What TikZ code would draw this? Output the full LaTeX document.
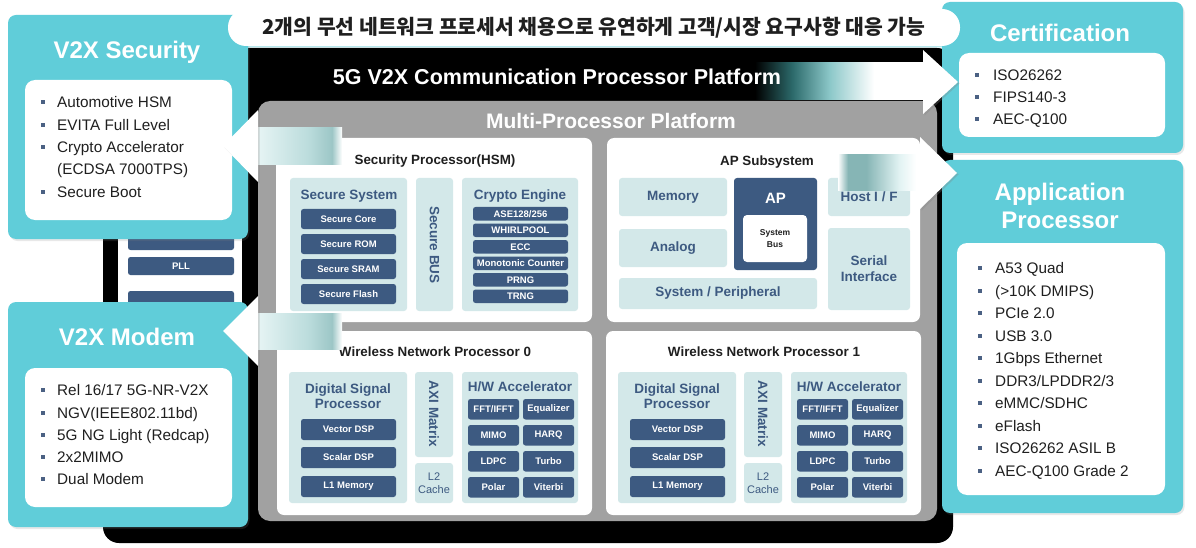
\documentclass[tikz,border=0pt]{standalone}
\usepackage{fontspec}
\setmainfont{Liberation Sans}
\newfontfamily\krfont{Noto Sans CJK KR}
\usetikzlibrary{shadows}
\definecolor{tealbox}{HTML}{60CDD9}
\definecolor{navy}{HTML}{3D5A81}
\definecolor{pale}{HTML}{D3E8E9}
\definecolor{gplat}{HTML}{A1A1A1}
\definecolor{ink}{HTML}{1F1F1F}
\definecolor{bulc}{HTML}{4B6183}
\definecolor{sha}{HTML}{E6F4F4}
\definecolor{shb}{HTML}{BBDCDC}
\definecolor{shc}{HTML}{9CC6C6}
\definecolor{sra}{HTML}{2C6A6B}
\definecolor{srb}{HTML}{8CC8C9}
\definecolor{src}{HTML}{86B5B5}
\definecolor{srd}{HTML}{E2F3F3}
\newcommand\fs[2]{\fontsize{#1}{#2}\selectfont}
\pgfdeclarehorizontalshading{lshaft}{100bp}{color(0bp)=(sha); color(25bp)=(sha); color(55bp)=(shb); color(69bp)=(shc); color(75bp)=(white); color(100bp)=(white)}
\pgfdeclarehorizontalshading{rshaftA}{100bp}{color(0bp)=(black); color(25bp)=(black); color(36bp)=(sra); color(47bp)=(srb); color(60bp)=(white); color(100bp)=(white)}
\pgfdeclarehorizontalshading{rshaftB}{100bp}{color(0bp)=(white); color(25bp)=(white); color(31bp)=(src); color(42bp)=(src); color(62bp)=(srd); color(72bp)=(white); color(100bp)=(white)}
\newcommand\bitem[5]{\fill[bulc] (#2-2,#4-2) rectangle (#2+2,#4+2); \node[item] (#1) at (#3,#4+5.5) {#5};}
\newcommand\wnp[3]{%
\begin{scope}[xshift=#2pt,name prefix=#1-]
 \node[panel,minimum width=315pt,minimum height=184pt] (p) at (277,331) {};
 \node[ttl] (t) at (435,356.8) {Wireless Network Processor #3};
 \node[pbox,minimum width=118pt,minimum height=131pt] (dsp) at (289,372) {};
 \node[ptitle] (dspt) at (348,396.5) {Digital Signal\\Processor};
 \node[blk,minimum width=95pt,minimum height=21pt] (vdsp) at (301,419) {Vector DSP};
 \node[blk,minimum width=95pt,minimum height=21pt] (sdsp) at (301,447) {Scalar DSP};
 \node[blk,minimum width=95pt,minimum height=21pt] (l1) at (301,476) {L1 Memory};
 \node[pbox,minimum width=38pt,minimum height=85pt] (axi) at (415,372) {};
 \node[ptitle,rotate=-90] (axit) at (434,414) {AXI Matrix};
 \node[pbox,minimum width=38pt,minimum height=40pt,text=navy,font=\fs{11}{12.5},align=center] (l2) at (415,463) {L2\\Cache};
 \node[pbox,minimum width=116pt,minimum height=131pt] (hw) at (462,372) {};
 \node[ptitle,anchor=base] (hwt) at (520,391.8) {H/W Accelerator};
 \node[blk,minimum width=51pt,minimum height=20.5pt] (fft) at (468,399) {FFT/IFFT};
 \node[blk,minimum width=51pt,minimum height=20.5pt] (eq) at (523,399) {Equalizer};
 \node[blk,minimum width=51pt,minimum height=20.5pt] (mimo) at (468,425) {MIMO};
 \node[blk,minimum width=51pt,minimum height=20.5pt] (harq) at (523,425) {HARQ};
 \node[blk,minimum width=51pt,minimum height=20.5pt] (ldpc) at (468,451) {LDPC};
 \node[blk,minimum width=51pt,minimum height=20.5pt] (turbo) at (523,451) {Turbo};
 \node[blk,minimum width=51pt,minimum height=20.5pt] (polar) at (468,477) {Polar};
 \node[blk,minimum width=51pt,minimum height=20.5pt] (vit) at (523,477) {Viterbi};
\end{scope}}
\begin{document}
\begin{tikzpicture}[x=1pt,y=-1pt,
  box/.style={anchor=north west,inner sep=0pt,outer sep=0pt},
  blk/.style={box,fill=navy,rounded corners=2.5pt,text=white,font=\bfseries\fs{9.5}{10}},
  pbox/.style={box,fill=pale,rounded corners=3pt},
  pboxt/.style={pbox,text=navy,font=\bfseries\fs{13.5}{16},align=center},
  ptitle/.style={inner sep=0pt,text=navy,font=\bfseries\fs{13.5}{15},align=center},
  panel/.style={box,fill=white,rounded corners=7pt},
  ttl/.style={inner sep=0pt,anchor=base,text=ink,font=\bfseries\fs{13.4}{15}},
  card/.style={box,fill=tealbox,rounded corners=8pt,drop shadow={opacity=0.18,shadow xshift=1.5pt,shadow yshift=-2pt}},
  cardin/.style={box,fill=white,rounded corners=10pt},
  cardtitle/.style={inner sep=0pt,text=white,font=\bfseries\fs{24}{28},align=center},
  item/.style={anchor=base west,inner sep=0pt,text=ink,font=\fs{15.3}{17}},
  head/.style={fill=white,drop shadow={opacity=0.3,shadow xshift=1.5pt,shadow yshift=-1.5pt}},
]
\useasboundingbox (0,0) rectangle (1196,548);
\fill[white] (0,0) rectangle (1196,548);

% black communication platform
\node[box,fill=black,rounded corners=16pt,minimum width=850pt,minimum height=495pt] (comm) at (103,48) {};
\node[box,fill=white,minimum width=124pt,minimum height=200pt] (rf) at (118,150) {};
\node[blk,minimum width=106pt,minimum height=18pt] (mixer) at (128,232) {};
\node[blk,minimum width=106pt,minimum height=18pt] (pll) at (128,257) {PLL};
\node[blk,minimum width=106pt,minimum height=18pt] (lna) at (128,291) {};

% gray multi-processor platform
\node[box,fill=gplat,rounded corners=12pt,minimum width=679pt,minimum height=420pt] (mpp) at (258,101) {};
\node[inner sep=0pt,anchor=base,text=white,font=\bfseries\fs{21}{24}] (mppt) at (611,128.5) {Multi-Processor Platform};

% security processor
\node[panel,minimum width=316pt,minimum height=184pt] (hsm) at (276,138) {};
\node[ttl] (hsmt) at (435,164.8) {Security Processor(HSM)};
\node[pbox,minimum width=117pt,minimum height=133pt] (ss) at (290,178) {};
\node[ptitle,anchor=base] (sst) at (349,199.8) {Secure System};
\node[blk,minimum width=95pt,minimum height=20pt] (score) at (301,209) {Secure Core};
\node[blk,minimum width=95pt,minimum height=20pt] (srom) at (301,234) {Secure ROM};
\node[blk,minimum width=95pt,minimum height=20pt] (ssram) at (301,259) {Secure SRAM};
\node[blk,minimum width=95pt,minimum height=20pt] (sflash) at (301,284) {Secure Flash};
\node[pbox,minimum width=37pt,minimum height=133pt] (sbus) at (416,178) {};
\node[ptitle,rotate=-90] (sbust) at (434.5,245) {Secure BUS};
\node[pbox,minimum width=116pt,minimum height=133pt] (ce) at (462,178) {};
\node[ptitle,anchor=base] (cet) at (520,199.8) {Crypto Engine};
\node[blk,minimum width=95pt,minimum height=13.5pt] (aes) at (473,207) {ASE128/256};
\node[blk,minimum width=95pt,minimum height=13.5pt] (whirl) at (473,223.5) {WHIRLPOOL};
\node[blk,minimum width=95pt,minimum height=13.5pt] (ecc) at (473,240) {ECC};
\node[blk,minimum width=95pt,minimum height=13.5pt] (mono) at (473,256.5) {Monotonic Counter};
\node[blk,minimum width=95pt,minimum height=13.5pt] (prng) at (473,273) {PRNG};
\node[blk,minimum width=95pt,minimum height=13.5pt] (trng) at (473,289.5) {TRNG};

% AP subsystem
\node[panel,minimum width=313pt,minimum height=184pt] (aps) at (607,138) {};
\node[ttl] (apst) at (767,165.8) {AP Subsystem};
\node[pboxt,minimum width=108pt,minimum height=38pt] (mem) at (619,178) {Memory};
\node[pboxt,minimum width=108pt,minimum height=38pt] (analog) at (619,229) {Analog};
\node[pboxt,minimum width=198pt,minimum height=31pt] (sysper) at (619,278) {System / Peripheral};
\node[pboxt,minimum width=82pt,minimum height=38pt] (host) at (828,178) {Host I / F};
\node[pboxt,minimum width=82pt,minimum height=82pt] (serial) at (828,228) {Serial\\Interface};
\node[box,fill=navy,rounded corners=3pt,minimum width=83pt,minimum height=92pt] (ap) at (734,178) {};
\node[inner sep=0pt,anchor=base,text=white,font=\bfseries\fs{15}{16}] (apt) at (775.5,203.4) {AP};
\node[box,fill=white,rounded corners=4pt,minimum width=64pt,minimum height=47pt,text=ink,font=\bfseries\fs{8.5}{11.5},align=center] (sysbus) at (743,215) {System\\Bus};

% wireless network processors
\wnp{w0}{0}{0}
\wnp{w1}{329}{1}

% arrow shafts
\path[shading=lshaft] (258,128) rectangle (342,165);
\path[shading=lshaft] (258,313) rectangle (342,349);
\path[shading=rshaftA] (755,63) rectangle (925,100);
\path[shading=rshaftB] (838,155) rectangle (921,191);
\node[inner sep=0pt,anchor=base,text=white,font=\bfseries\fs{21.5}{24}] (commt) at (557,84.7) {5G V2X Communication Processor Platform};

% left cards
\node[card,minimum width=240pt,minimum height=224pt] (sec) at (8,15) {};
\node[cardtitle,anchor=base] (sect) at (127,58.6) {V2X Security};
\node[cardin,minimum width=207pt,minimum height=140pt] (secin) at (25,80) {};
\bitem{s1}{43}{57}{102}{Automotive HSM}
\bitem{s2}{43}{57}{125}{EVITA Full Level}
\bitem{s3}{43}{57}{147}{Crypto Accelerator}
\node[item] (s4) at (57,174.5) {(ECDSA 7000TPS)};
\bitem{s5}{43}{57}{192}{Secure Boot}

\node[card,minimum width=240pt,minimum height=225pt] (mod) at (8,302) {};
\node[cardtitle,anchor=base] (modt) at (127,345.6) {V2X Modem};
\node[cardin,minimum width=207pt,minimum height=139pt] (modin) at (25,368) {};
\bitem{m1}{43}{57}{390}{Rel 16/17 5G-NR-V2X}
\bitem{m2}{43}{57}{413}{NGV(IEEE802.11bd)}
\bitem{m3}{43}{57}{435}{5G NG Light (Redcap)}
\bitem{m4}{43}{57}{457}{2x2MIMO}
\bitem{m5}{43}{57}{479}{Dual Modem}

% right cards
\node[card,minimum width=241pt,minimum height=151pt] (cert) at (942,2) {};
\node[cardtitle,anchor=base] (certt) at (1060,41.6) {Certification};
\node[cardin,minimum width=206pt,minimum height=84pt] (certin) at (959,53) {};
\bitem{c1}{977}{993}{75}{ISO26262}
\bitem{c2}{977}{993}{97}{FIPS140-3}
\bitem{c3}{977}{993}{119}{AEC-Q100}

\node[card,minimum width=241pt,minimum height=353pt] (app) at (942,160) {};
\node[cardtitle] (appt) at (1060,206) {Application\\Processor};
\node[cardin,minimum width=208pt,minimum height=252pt] (appin) at (957,243) {};
\bitem{a1}{980}{995}{268}{A53 Quad}
\bitem{a2}{980}{995}{290.5}{(>10K DMIPS)}
\bitem{a3}{980}{995}{313}{PCIe 2.0}
\bitem{a4}{980}{995}{335.5}{USB 3.0}
\bitem{a5}{980}{995}{358}{1Gbps Ethernet}
\bitem{a6}{980}{995}{380.5}{DDR3/LPDDR2/3}
\bitem{a7}{980}{995}{403}{eMMC/SDHC}
\bitem{a8}{980}{995}{425.5}{eFlash}
\bitem{a9}{980}{995}{448}{ISO26262 ASIL B}
\bitem{a10}{980}{995}{470.5}{AEC-Q100 Grade 2}

% arrow heads
\path[head] (258,110) -- (223,146) -- (258,182) -- cycle;
\path[head] (258,296) -- (223,331) -- (258,366) -- cycle;
\path[head] (923,50) -- (958,82) -- (923,114) -- cycle;
\path[head] (920,137) -- (957,173) -- (920,209) -- cycle;

% banner
\node[box,fill=white,rounded corners=18pt,minimum width=732pt,minimum height=37pt,drop shadow={opacity=0.45,fill=tealbox,shadow xshift=0pt,shadow yshift=-1.5pt}] (banner) at (228,9) {};
\node[inner sep=0pt,anchor=base,text=ink,font=\krfont\bfseries\fs{20.4}{24}] (bannert) at (594,35) {2개의 무선 네트워크 프로세서 채용으로 유연하게 고객/시장 요구사항 대응 가능};
\end{tikzpicture}
\end{document}
